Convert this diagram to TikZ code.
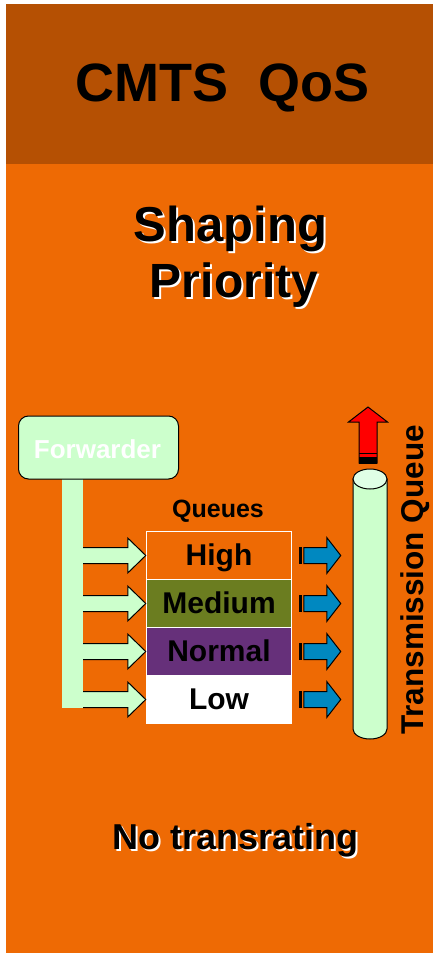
\documentclass[tikz,border=0pt]{standalone}
\usepackage{fontspec}
\setmainfont{Liberation Sans}
\definecolor{bgor}{RGB}{238,106,4}
\definecolor{band}{RGB}{181,80,3}
\definecolor{lgreen}{RGB}{204,255,204}
\definecolor{tgreen}{RGB}{224,255,230}
\definecolor{olive}{RGB}{107,125,32}
\definecolor{purp}{RGB}{102,48,122}
\definecolor{qblue}{RGB}{0,136,192}
\tikzset{
  qbox/.style={draw=white, line width=1.5pt, minimum width=145pt, minimum height=48pt, inner sep=0pt},
  qtext/.style={font=\fontsize{30}{34}\selectfont\bfseries},
  gblock/.style={fill=lgreen},
  goutline/.style={draw=black, line width=1pt},
  bblock/.style={fill=qblue, draw=black, line width=1pt},
}
\newcommand{\greenarrow}[1]{%
  \fill[gblock] ([yshift=8pt]bar.east |- #1.west) -- ([xshift=-18pt,yshift=8pt]#1.west) -- ([xshift=-18pt,yshift=17.5pt]#1.west) -- (#1.west) -- ([xshift=-18pt,yshift=-17.5pt]#1.west) -- ([xshift=-18pt,yshift=-8pt]#1.west) -- ([yshift=-8pt]bar.east |- #1.west) -- cycle;
  \draw[goutline] ([yshift=8pt]bar.east |- #1.west) -- ([xshift=-18pt,yshift=8pt]#1.west) -- ([xshift=-18pt,yshift=17.5pt]#1.west) -- (#1.west) -- ([xshift=-18pt,yshift=-17.5pt]#1.west) -- ([xshift=-18pt,yshift=-8pt]#1.west) -- ([yshift=-8pt]bar.east |- #1.west);
}
\newcommand{\bluearrow}[1]{%
  \coordinate (ba) at ([xshift=6.5pt]#1.east);
  \filldraw[bblock] ([xshift=5pt,yshift=8pt]ba) -- ([xshift=28pt,yshift=8pt]ba) -- ([xshift=28pt,yshift=18pt]ba) -- ([xshift=42pt]ba) -- ([xshift=28pt,yshift=-18pt]ba) -- ([xshift=28pt,yshift=-8pt]ba) -- ([xshift=5pt,yshift=-8pt]ba) -- cycle;
  \fill[black] ([xshift=0pt,yshift=8.5pt]ba) rectangle ([xshift=3.5pt,yshift=-8.5pt]ba);
}
\begin{document}
\begin{tikzpicture}[x=1pt,y=-1pt]
\useasboundingbox (0,0) rectangle (434,957);
\fill[white] (0,0) rectangle (434,957);
\fill[bgor] (6,4) rectangle (433,953);
\fill[band] (6,4) rectangle (433,164);

% title
\node[anchor=base, font=\fontsize{54}{60}\selectfont\bfseries, inner sep=0] (title) at (222.5,102) {CMTS\ \ QoS};

% Shaping Priority with shadow
\node[anchor=base, font=\fontsize{49}{52}\selectfont\bfseries, text=white, inner sep=0] (shs) at (232.5,244) {Shaping};
\node[anchor=base, font=\fontsize{49}{52}\selectfont\bfseries, inner sep=0] (sh) at (230.5,242) {Shaping};
\node[anchor=base, font=\fontsize{48}{52}\selectfont\bfseries, text=white, inner sep=0] (prs) at (236,299) {Priority};
\node[anchor=base, font=\fontsize{48}{52}\selectfont\bfseries, inner sep=0] (pr) at (234,297) {Priority};

% forwarder bar and box
\node[fill=lgreen, minimum width=21pt, minimum height=230pt, inner sep=0] (bar) at (72.5,593) {};
\node[fill=lgreen, draw=black, line width=1pt, rounded corners=10pt, minimum width=160pt, minimum height=63pt, inner sep=0] (fwd) at (98.5,447.5) {};
\node[anchor=base, font=\fontsize{26}{30}\selectfont\bfseries, text=white, inner sep=0] (fwdt) at (97.5,458) {Forwarder};

% queues
\node[anchor=base, font=\fontsize{25}{28}\selectfont\bfseries, inner sep=0] (ql) at (218,517) {Queues};
\node[qbox, fill=bgor] (high) at (219,555.5) {};
\node[qbox, fill=olive] (med) at (219,603.5) {};
\node[qbox, fill=purp] (norm) at (219,651.5) {};
\node[qbox, fill=white] (low) at (219,699.5) {};
\node[qtext, anchor=base, inner sep=0] at (219,565) {High};
\node[qtext, anchor=base, inner sep=0] at (219,613) {Medium};
\node[qtext, anchor=base, inner sep=0] at (219,661) {Normal};
\node[qtext, anchor=base, inner sep=0] at (219,709) {Low};

\greenarrow{high}
\greenarrow{med}
\greenarrow{norm}
\greenarrow{low}

\bluearrow{high}
\bluearrow{med}
\bluearrow{norm}
\bluearrow{low}

% transmission queue cylinder
\filldraw[fill=lgreen, draw=black, line width=1pt] (353,479) -- (353,729) arc[start angle=180, end angle=0, x radius=17, y radius=10] -- (387,479) -- cycle;
\filldraw[fill=tgreen, draw=black, line width=1pt] (370,479) ellipse[x radius=17, y radius=10];
\coordinate (tq) at (370,479);

% red arrow
\filldraw[fill=red, draw=black, line width=1pt] (359,463) -- (359,422) -- (348.5,422) -- (368,407) -- (387.5,422) -- (377,422) -- (377,463) -- cycle;
\draw[black, line width=1pt] (359,453) -- (377,453);
\fill[black] (359,457) rectangle (377,463.5);

\node[anchor=base, rotate=90, font=\fontsize{31.5}{34}\selectfont\bfseries, inner sep=0] (tqt) at (423,580) {Transmission Queue};

% No transrating
\node[anchor=base, font=\fontsize{36}{40}\selectfont\bfseries, text=white, inner sep=0] (nts) at (238,851) {No transrating};
\node[anchor=base, font=\fontsize{36}{40}\selectfont\bfseries, inner sep=0] (nt) at (236,849) {No transrating};
\end{tikzpicture}
\end{document}
